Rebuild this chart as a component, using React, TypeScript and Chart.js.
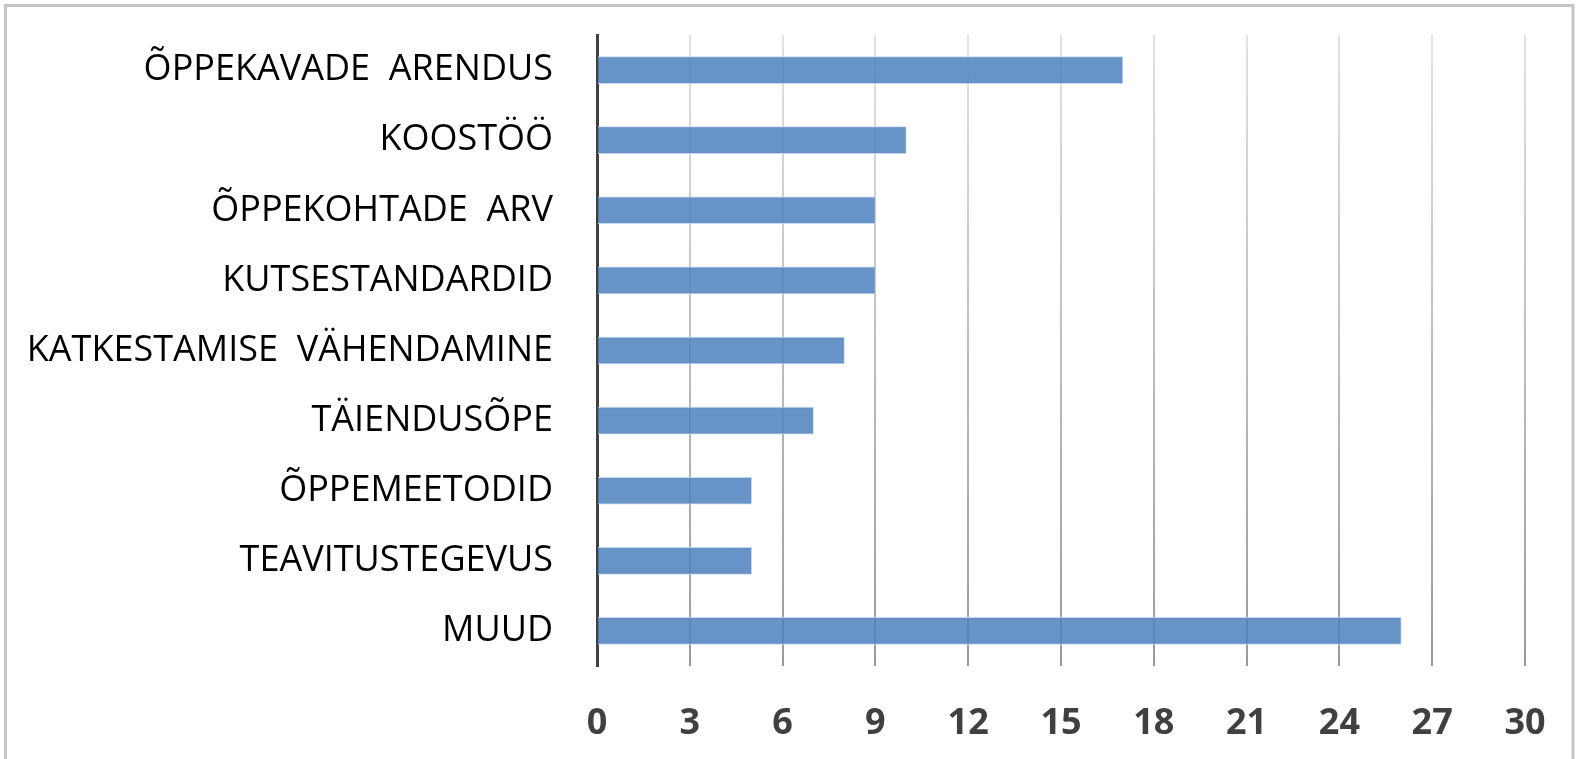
import React, { useEffect, useRef } from "react";
import { Chart, registerables } from "chart.js";

Chart.register(...registerables);

const categories = [
  "ÕPPEKAVADE  ARENDUS",
  "KOOSTÖÖ",
  "ÕPPEKOHTADE  ARV",
  "KUTSESTANDARDID",
  "KATKESTAMISE  VÄHENDAMINE",
  "TÄIENDUSÕPE",
  "ÕPPEMEETODID",
  "TEAVITUSTEGEVUS",
  "MUUD",
];
const values = [17, 10, 9, 9, 8, 7, 5, 5, 26];
const xMin = 0;
const xMax = 30;
const xStep = 3;

const borderPlugin = {
  id: "outerBorder",
  beforeDraw(chart: any) {
    const ctx = chart.ctx;
    ctx.save();
    ctx.fillStyle = "#ffffff";
    ctx.fillRect(0, 0, chart.width, chart.height);
    ctx.strokeStyle = "#c6c6c6";
    ctx.lineWidth = 3;
    ctx.strokeRect(5.5, 5.5, chart.width - 4 - 5.5, chart.height + 20);
    ctx.restore();
  },
};

export default function App() {
  const ref = useRef<HTMLCanvasElement | null>(null);
  useEffect(() => {
    document.body.style.margin = "0";
    const canvas = ref.current!;
    const chart = new Chart(canvas, {
      type: "bar",
      data: {
        labels: categories,
        datasets: [
          {
            data: values,
            backgroundColor: "rgba(79,129,189,0.86)",
            borderColor: "rgba(190,212,240,0.9)",
            borderWidth: 1,
            barThickness: 27,
          },
        ],
      },
      plugins: [borderPlugin],
      options: {
        indexAxis: "y",
        animation: false,
        responsive: false,
        maintainAspectRatio: false,
        layout: { padding: { top: 35, right: 52, left: 0, bottom: 0 } },
        plugins: {
          legend: { display: false },
          tooltip: { enabled: false },
        },
        scales: {
          x: {
            min: xMin,
            max: xMax,
            ticks: {
              stepSize: xStep,
              color: "#404040",
              font: { family: "Open Sans", size: 36, weight: "bold" },
              padding: 36,
            },
            grid: {
              drawTicks: false,
              lineWidth: 2,
              color: (c: any) => {
                const area = c.chart.chartArea;
                if (!area) return "#aaaaaa";
                const g = c.chart.ctx.createLinearGradient(0, area.top, 0, area.bottom);
                g.addColorStop(0, "#e2e2e2");
                g.addColorStop(1, "#9a9a9a");
                return g;
              },
            },
            border: { display: false },
            afterFit: (s: any) => {
              s.height = 93;
              s.paddingLeft = 0;
              s.paddingRight = 0;
            },
          },
          y: {
            ticks: {
              color: "#000000",
              font: { family: "Open Sans", size: 36 },
              padding: 44,
            },
            grid: { display: false, drawTicks: false },
            border: { display: true, color: "#404040", width: 3 },
            afterFit: (s: any) => {
              s.width = 597;
              s.paddingTop = 0;
              s.paddingBottom = 0;
            },
          },
        },
      },
    });
    return () => chart.destroy();
  }, []);
  return (
    <div style={{ width: 1577, height: 759 }}>
      <canvas ref={ref} width={1577} height={759} style={{ display: "block" }} />
    </div>
  );
}
